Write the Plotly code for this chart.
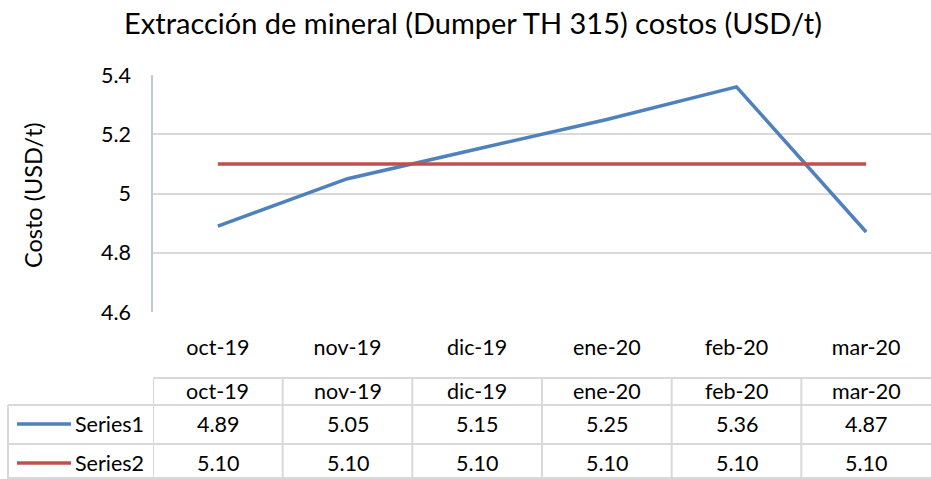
import plotly.graph_objects as go

categories = ["oct-19", "nov-19", "dic-19", "ene-20", "feb-20", "mar-20"]
series1 = [4.89, 5.05, 5.15, 5.25, 5.36, 4.87]
series2 = [5.10, 5.10, 5.10, 5.10, 5.10, 5.10]
series_names = ["Series1", "Series2"]
y_ticks = [4.6, 4.8, 5.0, 5.2, 5.4]
y_tick_labels = ["4.6", "4.8", "5", "5.2", "5.4"]

W, H = 931, 479
BLUE = "#4f81bd"
RED = "#c0504d"
GRID = "#d9d9d9"
FONT = "Lato"
TXT = "#000000"
FS = 21.5

def py(px):  # pixel row -> paper y
    return 1 - px / H

def pxx(px):
    return px / W

fig = go.Figure()
fig.add_trace(go.Scatter(x=categories, y=series1, mode="lines", name=series_names[0],
                         line=dict(color=BLUE, width=3.5)))
fig.add_trace(go.Scatter(x=categories, y=series2, mode="lines", name=series_names[1],
                         line=dict(color=RED, width=3.5)))

x_left_px = 153
fig.update_layout(
    width=W, height=H,
    margin=dict(l=0, r=0, t=0, b=0, autoexpand=False),
    paper_bgcolor="white", plot_bgcolor="white",
    showlegend=False,
    font=dict(family=FONT, color=TXT),
    title=dict(text="Extracción de mineral (Dumper TH 315) costos (USD/t)",
               x=473 / W, xanchor="center", y=py(24), yanchor="middle",
               font=dict(size=29, family=FONT, color=TXT)),
    xaxis=dict(domain=[pxx(x_left_px), 1], type="category", range=[-0.5, 5.5], automargin=False,
               showgrid=False, showline=False, ticks="", showticklabels=True,
               tickfont=dict(size=FS, family=FONT, color=TXT), ticklabelstandoff=20),
    yaxis=dict(domain=[py(312), py(75)], range=[4.6, 5.4], tickvals=y_ticks, ticktext=y_tick_labels,
               automargin=False,
               showgrid=True, gridcolor=GRID, gridwidth=1.5, zeroline=False,
               showline=True, linecolor="#bfcad9", linewidth=1.5,
               tickfont=dict(size=FS, family=FONT, color=TXT), ticks="", ticklabelstandoff=16),
)

shapes = []
line_style = dict(color=GRID, width=2)
shapes.append(dict(type="line", xref="x", yref="paper", x0=-0.5, x1=5.5, y0=py(378), y1=py(378), line=line_style))
for yy in [405, 444, 478]:
    shapes.append(dict(type="line", xref="paper", yref="paper", x0=pxx(8), x1=1, y0=py(yy), y1=py(yy), line=line_style))
for i in range(len(categories)):
    shapes.append(dict(type="line", xref="x", yref="paper", x0=i - 0.5, x1=i - 0.5, y0=py(378), y1=py(479), line=line_style))
shapes.append(dict(type="line", xref="paper", yref="paper", x0=pxx(8), x1=pxx(8), y0=py(405), y1=py(479), line=line_style))
row_centers = [424, 463]
for color, rc in zip([BLUE, RED], row_centers):
    shapes.append(dict(type="line", xref="paper", yref="paper", x0=pxx(17), x1=pxx(71), y0=py(rc), y1=py(rc),
                       line=dict(color=color, width=3.5)))
fig.update_layout(shapes=shapes)

ann = []
ann.append(dict(x=pxx(33), xref="paper", xanchor="center", y=py(195), yref="paper", yanchor="middle",
                text="Costo (USD/t)", textangle=-90,
                showarrow=False, font=dict(size=23.5, family=FONT, color=TXT)))
for c in categories:
    ann.append(dict(x=c, xref="x", y=py(391), yref="paper", yanchor="middle", text=c, showarrow=False,
                    font=dict(size=FS, family=FONT, color=TXT)))
for name, vals, rc in zip(series_names, [series1, series2], row_centers):
    ann.append(dict(x=pxx(73), xref="paper", xanchor="left", y=py(rc), yref="paper", yanchor="middle",
                    text=name, showarrow=False, font=dict(size=FS, family=FONT, color=TXT)))
    for c, v in zip(categories, vals):
        ann.append(dict(x=c, xref="x", y=py(rc), yref="paper", yanchor="middle", text=f"{v:.2f}",
                        showarrow=False, font=dict(size=FS, family=FONT, color=TXT)))
fig.update_layout(annotations=ann)

fig.write_html("out.html", config={"displayModeBar": False},
               post_script="document.body.style.margin='0';document.body.style.overflow='hidden';")
